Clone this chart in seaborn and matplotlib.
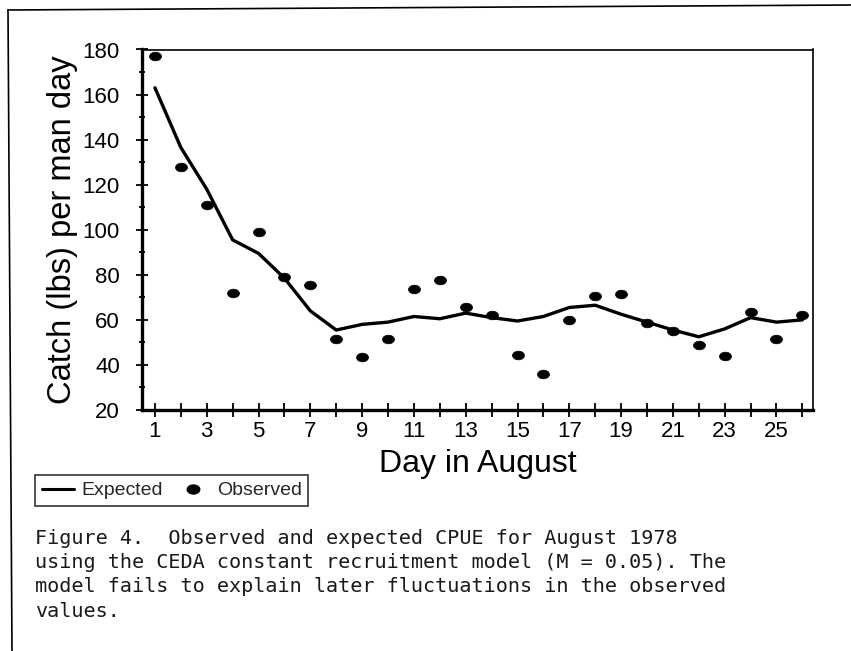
import numpy as np
import pandas as pd
import matplotlib
matplotlib.use("Agg")
import matplotlib.pyplot as plt
import matplotlib.transforms as mtransforms
from matplotlib.path import Path
from matplotlib.lines import Line2D
import seaborn as sns

# ---- data ----
days = list(range(1, 27))
observed = [177, 128, 111, 72, 99, 79, 75.5, 51.5, 43.5, 51.5, 73.5, 77.5, 65.5,
            62, 44.5, 36, 60, 70.5, 71.5, 58.5, 55, 49, 44, 63.5, 51.5, 62]
expected = [163, 136.5, 118, 95.5, 89.5, 78.5, 64, 55.5, 58, 59, 61.5, 60.5, 63,
            61, 59.5, 61.5, 65.5, 66.5, 62.5, 59, 55.5, 52.5, 56, 61, 59, 60]
x_ticklabels = [str(d) if d % 2 == 1 else "" for d in days]
y_ticks = list(range(20, 181, 20))
caption_lines = [
    "Figure 4.  Observed and expected CPUE for August 1978",
    "using the CEDA constant recruitment model (M = 0.05). The",
    "model fails to explain later fluctuations in the observed",
    "values.",
]

df = pd.DataFrame({"day": days, "Observed": observed, "Expected": expected})

sns.set_theme(style="white")
plt.rcParams["font.family"] = ["Liberation Sans", "DejaVu Sans"]

W, H = 851, 651
fig = plt.figure(figsize=(W / 100, H / 100), dpi=100)
ax = fig.add_axes([142 / W, 1 - 410 / H, (813 - 142) / W, (410 - 49.5) / H])

sns.lineplot(data=df, x="day", y="Expected", ax=ax, color="black", lw=2.4,
             legend=False)
ell = Path.unit_circle().transformed(mtransforms.Affine2D().scale(1.0, 0.72))
sns.scatterplot(data=df, x="day", y="Observed", ax=ax, color="black",
                marker=ell, s=75, edgecolor="black", linewidth=0.5,
                legend=False, zorder=3)

ax.set_xlim(0.5, 26.41)
ax.set_ylim(20, 180)
ax.set_xticks(days)
ax.set_xticklabels(x_ticklabels)
ax.set_yticks(y_ticks)
ax.set_yticks(list(range(30, 180, 20)), minor=True)

for side in ["left", "bottom"]:
    ax.spines[side].set_linewidth(2.4)
    ax.spines[side].set_color("black")
for side in ["top", "right"]:
    ax.spines[side].set_linewidth(1.2)
    ax.spines[side].set_color("black")

ax.tick_params(axis="y", which="major", direction="inout", length=8, width=1.3,
               color="black", labelsize=16, pad=12, left=True)
ax.tick_params(axis="y", which="minor", direction="inout", length=4, width=1.3,
               color="black", left=True)
ax.tick_params(axis="x", which="major", direction="inout", length=10, width=1.3,
               color="black", labelsize=16, pad=3, bottom=True)
for lab in ax.get_xticklabels() + ax.get_yticklabels():
    lab.set_color("black")

ax.set_xlabel("Day in August", fontsize=23, color="black", labelpad=5)
ax.set_ylabel("Catch (lbs) per man day", fontsize=23.5, color="black", labelpad=3)

handles = [
    Line2D([], [], color="black", lw=2.2, label="Expected"),
    Line2D([], [], color="black", lw=0, marker=ell, markersize=9,
           label="Observed"),
]
leg = fig.legend(handles=handles, loc="upper left",
                 bbox_to_anchor=(35 / W, 1 - 475 / H), bbox_transform=fig.transFigure,
                 ncol=2, frameon=True, fancybox=False, fontsize=14,
                 handlelength=1.65, handletextpad=0.4, columnspacing=0.7,
                 borderpad=0.35, borderaxespad=0)
leg.get_frame().set_edgecolor("black")
leg.get_frame().set_linewidth(1.2)

y0 = 538
for i, line in enumerate(caption_lines):
    fig.text(35 / W, 1 - (y0 + 24.5 * i) / H, line, family="DejaVu Sans Mono",
             fontsize=14.5, color="#1a1a1a", va="center", ha="left")

# scanned page frame
fig.add_artist(Line2D([8 / W, 1.0], [1 - 10 / H, 1 - 5 / H], color="black",
                      lw=1.2, transform=fig.transFigure))
fig.add_artist(Line2D([8 / W, 12 / W], [1 - 10 / H, 0.0], color="black",
                      lw=1.2, transform=fig.transFigure))

fig.savefig("out.png", dpi=100)
